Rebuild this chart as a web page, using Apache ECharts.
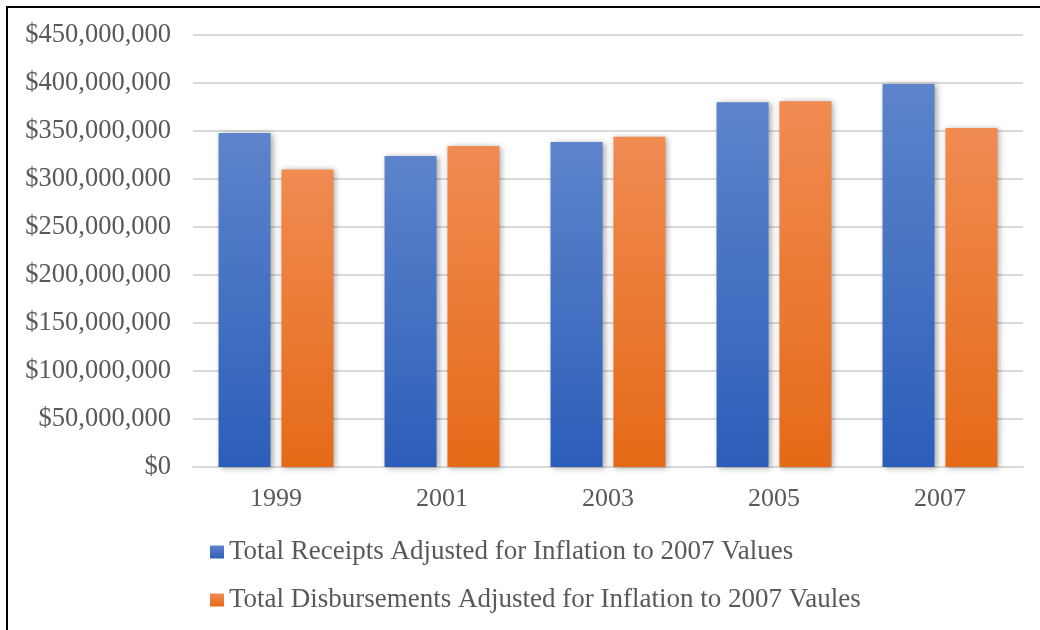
<!DOCTYPE html>
<html>
<head>
<meta charset="utf-8">
<script src="https://cdn.jsdelivr.net/npm/echarts@6/dist/echarts.min.js"></script>
<style>
  html, body { margin: 0; padding: 0; background: #fff; }
  #chart { width: 1040px; height: 630px; }
</style>
</head>
<body>
<div id="chart"></div>
<script>
const years = ['1999', '2001', '2003', '2005', '2007']
const receipts = [348000000, 324000000, 338500000, 380000000, 399000000]
const disbursements = [310000000, 334500000, 344000000, 381000000, 353000000]
const receiptsName = 'Total Receipts Adjusted for Inflation to 2007 Values'
const disbursementsName = 'Total Disbursements Adjusted for Inflation to 2007 Vaules'

const chart = echarts.init(document.getElementById('chart'))
const font = '"Liberation Serif", "Times New Roman", serif'

function grad(top, bottom) {
  return new echarts.graphic.LinearGradient(0, 0, 0, 1, [
    { offset: 0, color: top },
    { offset: 1, color: bottom }
  ])
}

// one legend per row, like the two-line legend in the original
function legendRow(name, top) {
  return {
    data: [name],
    left: 210,
    top: top,
    padding: 0,
    itemWidth: 14,
    itemHeight: 13,
    icon: 'rect',
    textStyle: { fontFamily: font, fontSize: 27, lineHeight: 28, color: '#595959' }
  }
}

const option = {
  animation: false,
  grid: { left: 193, right: 17, top: 35, bottom: 163 },
  legend: [legendRow(receiptsName, 538), legendRow(disbursementsName, 586)],
  xAxis: {
    type: 'category',
    data: years,
    axisTick: { show: false },
    axisLine: { lineStyle: { color: '#d9d9d9', width: 2 } },
    axisLabel: { fontFamily: font, fontSize: 26, color: '#595959', margin: 19 }
  },
  yAxis: {
    type: 'value',
    min: 0,
    max: 450000000,
    interval: 50000000,
    axisLine: { show: false },
    axisTick: { show: false },
    splitLine: { lineStyle: { color: '#d9d9d9', width: 2 } },
    axisLabel: {
      fontFamily: font,
      fontSize: 26.5,
      color: '#595959',
      margin: 22,
      formatter: v => '$' + v.toLocaleString('en-US')
    }
  },
  series: [{
    name: receiptsName,
    type: 'bar',
    data: receipts,
    barWidth: 52,
    barGap: '21%',
    itemStyle: {
      color: grad('#5d84cb', '#2c5eb9'),
      shadowBlur: 6,
      shadowColor: 'rgba(0,0,0,0.35)',
      shadowOffsetX: 2,
      shadowOffsetY: 1
    }
  }, {
    name: disbursementsName,
    type: 'bar',
    data: disbursements,
    barWidth: 52,
    itemStyle: {
      color: grad('#f08b52', '#e56a17'),
      shadowBlur: 6,
      shadowColor: 'rgba(0,0,0,0.35)',
      shadowOffsetX: 2,
      shadowOffsetY: 1
    }
  }],
  graphic: [{
    type: 'line',
    shape: { x1: 6, y1: 7, x2: 1040, y2: 7 },
    style: { stroke: '#000', lineWidth: 2 }
  }, {
    type: 'line',
    shape: { x1: 7, y1: 6, x2: 7, y2: 630 },
    style: { stroke: '#000', lineWidth: 2 }
  }]
}
chart.setOption(option)
</script>
</body>
</html>
